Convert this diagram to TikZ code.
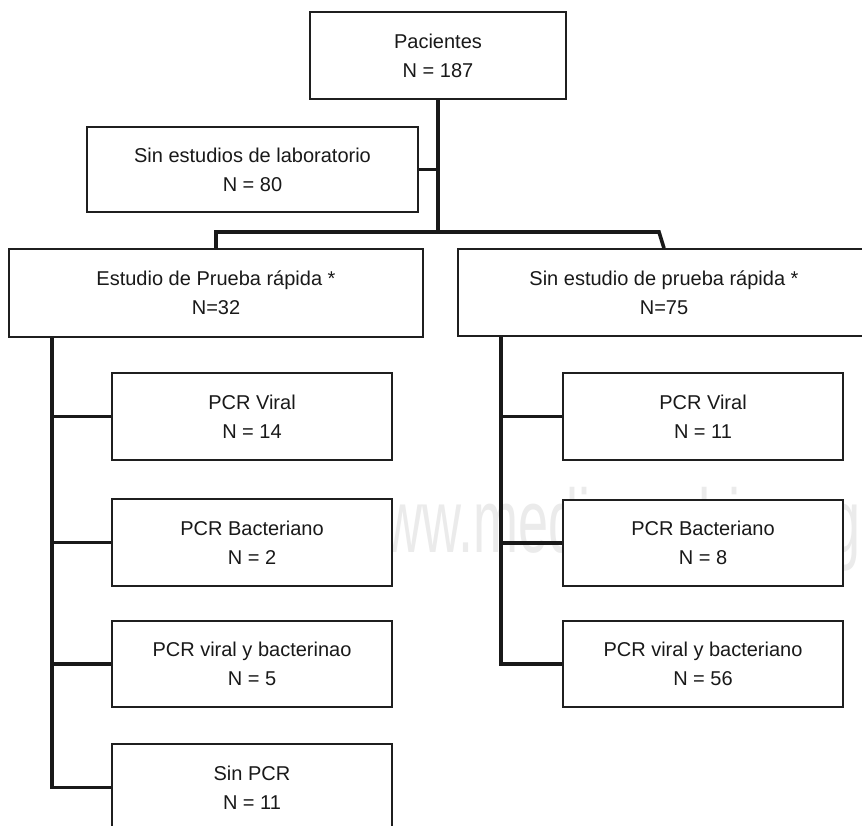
\documentclass[tikz,border=0pt]{standalone}
\usepackage{fontspec}
\usepackage{graphicx}
\setmainfont{Liberation Sans}
\tikzset{
  box/.style={draw=black!88, line width=1.6pt, fill=white, inner sep=0pt,
    align=center, font=\fontsize{20}{29}\selectfont, text=black!90},
  conn/.style={draw=black!90, line width=3.6pt, line join=miter},
  wmark/.style={anchor=base west, inner sep=0pt, text=black!8}
}
\begin{document}
\begin{tikzpicture}[x=1pt, y=-1pt]
\useasboundingbox (0,0) rectangle (862,825);
\clip (0,0) rectangle (862,825);
\fill[white] (0,0) rectangle (862,825);
% watermark
\node[wmark] (wm) at (344,552) {\scalebox{0.6}[1]{\fontsize{90}{90}\selectfont www.medigraphic.org}};
% boxes
\node[box, minimum width=256pt, minimum height=87pt] (pac) at (438,55.5) {Pacientes\\N = 187};
\node[box, minimum width=331pt, minimum height=85pt] (sinlab) at (252.5,169.5) {Sin estudios de laboratorio\\N = 80};
\node[box, minimum width=414pt, minimum height=88pt] (epr) at (216,293) {Estudio de Prueba rápida *\\N=32};
\node[box, minimum width=412pt, minimum height=87pt] (sepr) at (664,292.5) {Sin estudio de prueba rápida *\\N=75};
\node[box, minimum width=280pt, minimum height=87pt] (l1) at (252,416.5) {PCR Viral\\N = 14};
\node[box, minimum width=280pt, minimum height=87pt] (l2) at (252,542.5) {PCR Bacteriano\\N = 2};
\node[box, minimum width=280pt, minimum height=86pt] (l3) at (252,664) {PCR viral y bacterinao\\N = 5};
\node[box, minimum width=280pt, minimum height=87pt] (l4) at (252,787.5) {Sin PCR\\N = 11};
\node[box, minimum width=280pt, minimum height=87pt] (r1) at (703,416.5) {PCR Viral\\N = 11};
\node[box, minimum width=280pt, minimum height=86pt] (r2) at (703,543) {PCR Bacteriano\\N = 8};
\node[box, minimum width=280pt, minimum height=86pt] (r3) at (703,664) {PCR viral y bacteriano\\N = 56};
% connectors
\coordinate (bar) at (438,232);
\coordinate (barR) at (659,232);
\coordinate (lt) at (52,0);
\coordinate (rt) at (501,0);
\draw[conn] (pac.south) -- (bar);
\draw[conn] (sinlab.east) -- (sinlab.east -| bar);
\draw[conn] (epr.north) |- (bar) -- (barR) -- (sepr.north);
\draw[conn] (epr.south -| lt) -- (l4.west -| lt) -- (l4.west);
\draw[conn] (l1.west -| lt) -- (l1.west);
\draw[conn] (l2.west -| lt) -- (l2.west);
\draw[conn] (l3.west -| lt) -- (l3.west);
\draw[conn] (sepr.south -| rt) -- (r3.west -| rt) -- (r3.west);
\draw[conn] (r1.west -| rt) -- (r1.west);
\draw[conn] (r2.west -| rt) -- (r2.west);
\end{tikzpicture}
\end{document}
